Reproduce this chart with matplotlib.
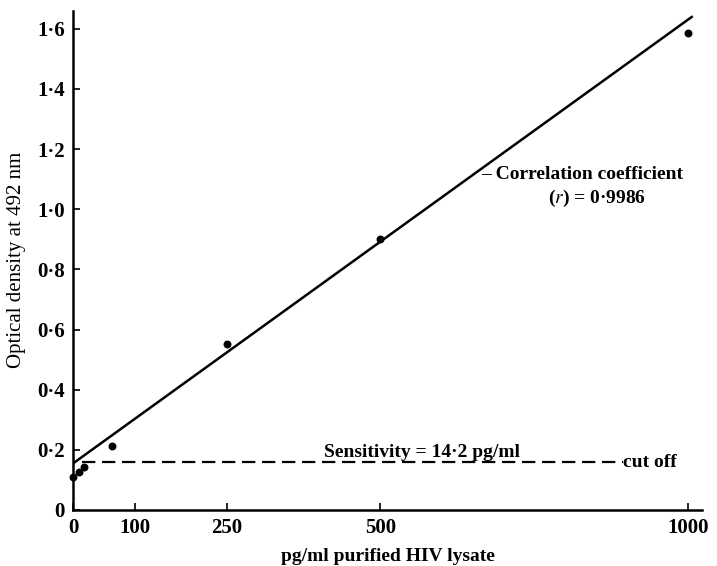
import matplotlib
matplotlib.use('Agg')

import matplotlib.pyplot as plt
from matplotlib.ticker import FixedLocator, FixedFormatter


# pg/ml purified HIV lysate
CONCENTRATION = [0, 10, 18, 63, 250, 500, 1000]
# optical density at 492 nm
DENSITY = [0.11, 0.127, 0.143, 0.213, 0.553, 0.90, 1.585]

# regression line
FIT_INTERCEPT = 0.155
FIT_SLOPE = 0.001475
FIT_RANGE = [0, 1008]

CUT_OFF = 0.158
SENSITIVITY = 14.2
CUT_OFF_END = 894

X_TICKS = [0, 100, 250, 500, 1000]
X_TICK_LABELS = ['0', '100', '250', '500', '1000']
Y_TICKS = [0, 0.2, 0.4, 0.6, 0.8, 1.0, 1.2, 1.4, 1.6]
Y_TICK_LABELS = ['0', '0·2', '0·4', '0·6', '0·8', '1·0', '1·2', '1·4', '1·6']

SERIF = 'Liberation Serif'

plt.rcParams['font.family'] = SERIF
plt.rcParams['mathtext.fontset'] = 'stix'


figure = plt.figure(figsize=(7.17, 5.66), dpi=100, facecolor='white')
axes = figure.add_axes([0.102, 0.099, 0.877, 0.882])

axes.scatter(CONCENTRATION, DENSITY, s=22, color='black', zorder=3, clip_on=False)

fit_y = [FIT_INTERCEPT + FIT_SLOPE * x for x in FIT_RANGE]
axes.plot(FIT_RANGE, fit_y, color='black', linewidth=1.8, solid_capstyle='butt')

axes.plot(
    [SENSITIVITY, CUT_OFF_END], [CUT_OFF, CUT_OFF],
    color='black', linewidth=1.6, linestyle=(0, (6, 3)),
)

note = dict(fontsize=14, fontweight='bold', va='center')

axes.text(567, 0.192, 'Sensitivity = 14·2 pg/ml', ha='center', **note)
axes.text(CUT_OFF_END + 1, CUT_OFF, 'cut off', ha='left', **note)

axes.text(664, 1.117, '– Correlation coefficient', ha='left', **note)
axes.text(852, 1.035, r'($\mathbf{\mathit{r}}$) = 0·9986', ha='center', **note)

axes.set_xlim(0, 1023)
axes.set_ylim(0, 1.66)

axes.xaxis.set_major_locator(FixedLocator(X_TICKS))
axes.xaxis.set_major_formatter(FixedFormatter(X_TICK_LABELS))
axes.yaxis.set_major_locator(FixedLocator(Y_TICKS))
axes.yaxis.set_major_formatter(FixedFormatter(Y_TICK_LABELS))

axes.tick_params(direction='in', length=5, width=1.2, labelsize=15, pad=6)
for label in axes.get_xticklabels() + axes.get_yticklabels():
    label.set_fontweight('bold')

axes.spines['top'].set_visible(False)
axes.spines['right'].set_visible(False)
axes.spines['left'].set_linewidth(1.8)
axes.spines['bottom'].set_linewidth(1.8)

axes.set_xlabel('pg/ml purified HIV lysate', fontsize=14, fontweight='bold', labelpad=7)
axes.set_ylabel('Optical density at 492 nm', fontsize=15, labelpad=8)

figure.savefig('out.png', dpi=100, facecolor='white')
